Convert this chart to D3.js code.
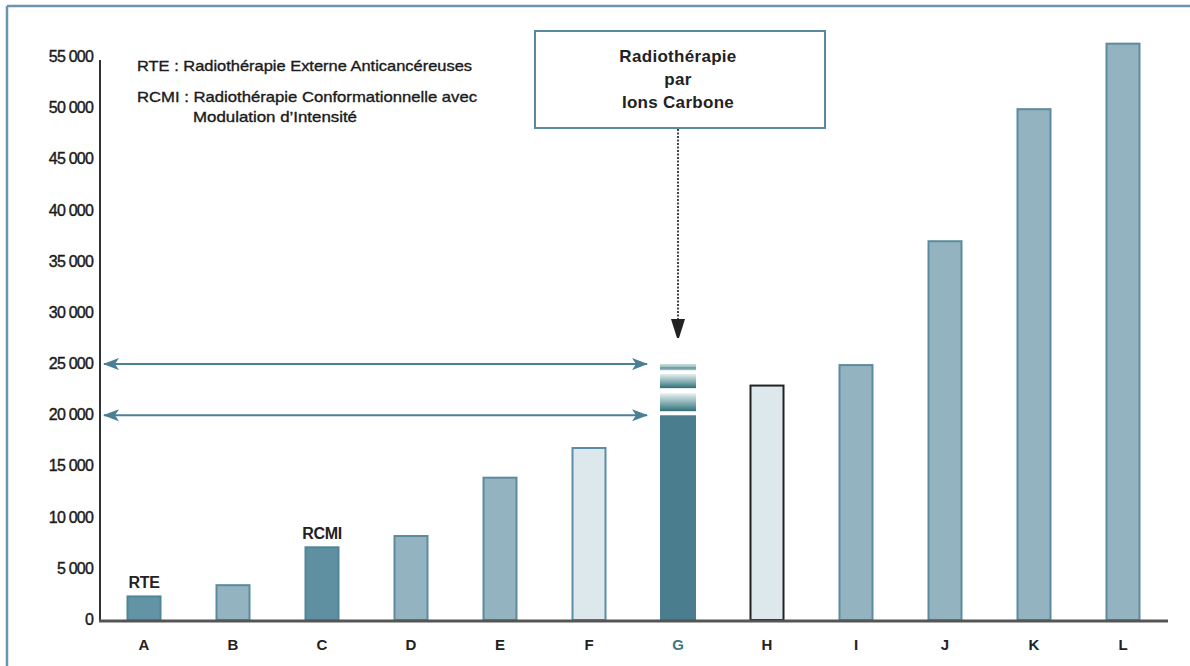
<!DOCTYPE html>
<html><head><meta charset="utf-8">
<script src="https://cdn.jsdelivr.net/npm/d3@7"></script>
<style>body{margin:0;background:#fff}svg{display:block}</style>
</head><body><svg id="c" width="1190" height="666"></svg>
<script>
const categories = ["A","B","C","D","E","F","G","H","I","J","K","L"];
const values = [2400, 3500, 7200, 8300, 14000, 16900, 20000, 23000, 25000, 37100, 50000, 56400];
const fills = ["#6394a5","#94b3c0","#5f90a1","#94b3c0","#94b3c0","#dde8ed","#4a7d8d","#dde8ed","#94b3c0","#94b3c0","#94b3c0","#94b3c0"];
const strokes = ["#4f8598","#5b8b9d","#4f8598","#5b8b9d","#5b8b9d","#5b8ea2","#4a7d8d","#222222","#5b8b9d","#5b8b9d","#5b8b9d","#5b8b9d"];
const yTicks = [0,5000,10000,15000,20000,25000,30000,35000,40000,45000,50000,55000];
const gBands = [[24400,25000],[22650,24050],[20400,22150]];
const rangeArrows = [25000, 20000];
const barLabels = [{cat:"A", text:"RTE"},{cat:"C", text:"RCMI"}];
const legendLines = ["RTE : Radiothérapie Externe Anticancéreuses","RCMI : Radiothérapie Conformationnelle avec","Modulation d’Intensité"];
const boxLines = ["Radiothérapie","par","Ions Carbone"];

const svg = d3.select("#c");
const font = "'Liberation Sans',Arial,sans-serif";
const y = d3.scaleLinear().domain([0,55000]).range([620,57]);
const x = d3.scalePoint().domain(categories).range([144,1123]);
const bw = 35;

const defs = svg.append("defs");
const grad = defs.append("linearGradient").attr("id","gb").attr("x1",0).attr("y1",0).attr("x2",0).attr("y2",1);
grad.append("stop").attr("offset","0%").attr("stop-color","#e8f1f1");
grad.append("stop").attr("offset","60%").attr("stop-color","#7aa7ab");
grad.append("stop").attr("offset","100%").attr("stop-color","#2f6f78");
const grad1 = defs.append("linearGradient").attr("id","gb1").attr("x1",0).attr("y1",0).attr("x2",0).attr("y2",1);
grad1.append("stop").attr("offset","0%").attr("stop-color","#c3dadb");
grad1.append("stop").attr("offset","45%").attr("stop-color","#9ec2c4");
grad1.append("stop").attr("offset","60%").attr("stop-color","#5d9398");
grad1.append("stop").attr("offset","100%").attr("stop-color","#a9c9cb");
const mk = defs.append("marker").attr("id","ah").attr("viewBox","0 0 16 12").attr("refX",15).attr("refY",6)
  .attr("markerWidth",16).attr("markerHeight",12).attr("markerUnits","userSpaceOnUse").attr("orient","auto-start-reverse");
mk.append("path").attr("d","M0,0 L16,6 L0,12 L4,6 Z").attr("fill","#4a7f95");

// frame
svg.append("line").attr("x1",7).attr("x2",1190).attr("y1",6).attr("y2",6).attr("stroke","#6a96ab").attr("stroke-width",2.5);
svg.append("line").attr("x1",7).attr("x2",7).attr("y1",6).attr("y2",666).attr("stroke","#6a96ab").attr("stroke-width",2.5);

// bars
const nonG = categories.map((c,i)=>({c,v:values[i],f:fills[i],s:strokes[i]})).filter(d=>d.c!=="G");
svg.selectAll("rect.bar").data(nonG).join("rect").attr("class","bar")
  .attr("x",d=>x(d.c)-bw/2+1).attr("width",bw-2)
  .attr("y",d=>y(d.v)+1).attr("height",d=>y(0)-y(d.v)-1)
  .attr("fill",d=>d.f).attr("stroke",d=>d.s).attr("stroke-width",2);
// G bar
const gi = categories.indexOf("G");
svg.append("rect").attr("x",x("G")-18).attr("width",36).attr("y",y(values[gi])).attr("height",y(0)-y(values[gi])).attr("fill",fills[gi]);
svg.selectAll("rect.band").data(gBands).join("rect").attr("class","band")
  .attr("x",x("G")-18).attr("width",36).attr("y",d=>y(d[1])).attr("height",d=>y(d[0])-y(d[1]))
  .attr("fill",(d,i)=>i===0?"url(#gb1)":"url(#gb)");

// axes
svg.append("line").attr("x1",100).attr("x2",100).attr("y1",60).attr("y2",621).attr("stroke","#333").attr("stroke-width",2);
svg.append("line").attr("x1",99).attr("x2",1168).attr("y1",621).attr("y2",621).attr("stroke","#555").attr("stroke-width",3);
const fmt = v => v===0 ? "0" : d3.format(",")(v).replace(",", " ");
svg.selectAll("text.yt").data(yTicks).join("text").attr("class","yt")
  .attr("x",93).attr("y",d=>y(d)+5).attr("text-anchor","end").attr("font-family",font).attr("font-size",16)
  .attr("letter-spacing",-0.8).attr("fill","#1a1a1a").attr("stroke","#1a1a1a").attr("stroke-width",0.4).text(fmt);
svg.selectAll("text.xt").data(categories).join("text").attr("class","xt")
  .attr("x",d=>x(d)).attr("y",650).attr("text-anchor","middle").attr("font-family",font)
  .attr("font-weight","bold").attr("font-size",15).attr("fill",d=>d==="G"?"#3c7585":"#222").text(d=>d);

// bar labels
svg.selectAll("text.bl").data(barLabels).join("text").attr("class","bl")
  .attr("x",d=>x(d.cat)).attr("y",d=>y(values[categories.indexOf(d.cat)])-7).attr("text-anchor","middle")
  .attr("font-family",font).attr("font-weight","bold").attr("font-size",16).attr("letter-spacing",-0.3).attr("fill","#222").text(d=>d.text);

// range arrows
svg.selectAll("line.ra").data(rangeArrows).join("line").attr("class","ra")
  .attr("x1",104).attr("x2",647).attr("y1",d=>y(d)).attr("y2",d=>y(d))
  .attr("stroke","#4a7f95").attr("stroke-width",2)
  .attr("marker-start","url(#ah)").attr("marker-end","url(#ah)");

// legend
const lg = [{t:legendLines[0],x:137,y:71,w:335},{t:legendLines[1],x:137,y:102,w:340},{t:legendLines[2],x:193,y:122,w:164}];
svg.selectAll("text.lg").data(lg).join("text").attr("class","lg")
  .attr("x",d=>d.x).attr("y",d=>d.y).attr("font-family",font).attr("font-size",15).attr("fill","#1a1a1a")
  .attr("stroke","#1a1a1a").attr("stroke-width",0.35)
  .attr("textLength",d=>d.w).attr("lengthAdjust","spacingAndGlyphs").text(d=>d.t);

// annotation box
svg.append("rect").attr("x",535).attr("y",31).attr("width",290).attr("height",97).attr("fill","#fff").attr("stroke","#5a8aa0").attr("stroke-width",2);
svg.selectAll("text.bx").data(boxLines).join("text").attr("class","bx")
  .attr("x",x("G")).attr("y",(d,i)=>62+i*23).attr("text-anchor","middle").attr("font-family",font)
  .attr("font-weight","bold").attr("font-size",17).attr("letter-spacing",0.3).attr("fill","#222").text(d=>d);
svg.append("line").attr("x1",x("G")).attr("x2",x("G")).attr("y1",129).attr("y2",320)
  .attr("stroke","#444").attr("stroke-width",2).attr("stroke-dasharray","2,1.5");
svg.append("path").attr("d",`M${x("G")-7},319 L${x("G")+7},319 L${x("G")+1},338 L${x("G")-1},338 Z`).attr("fill","#222");
</script></body></html>
